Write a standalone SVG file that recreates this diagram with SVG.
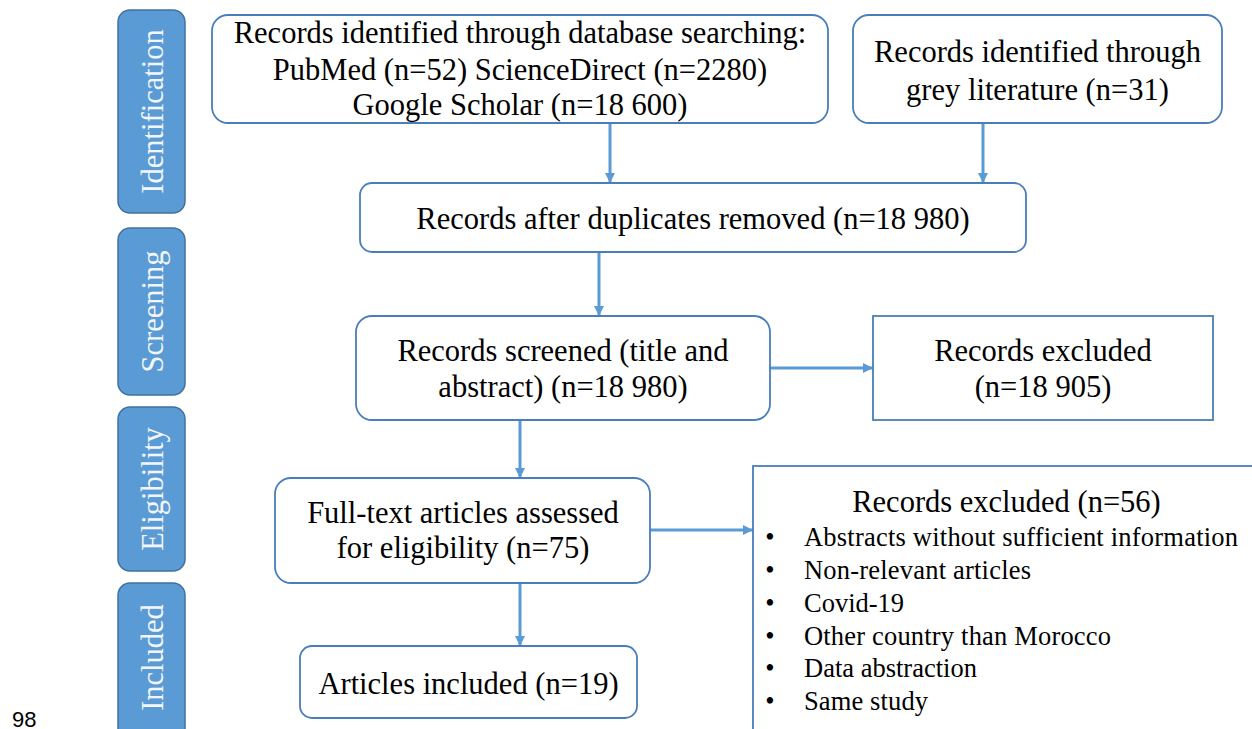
<svg xmlns="http://www.w3.org/2000/svg" width="1252" height="729" viewBox="0 0 1252 729">
<style>
  .bar { fill: #5B9BD5; stroke: #41719C; stroke-width: 1.5; }
  .barlabel { font-family: "Liberation Serif", "Times New Roman", serif; font-size: 30.5px; fill: #F2F6FB; text-anchor: middle; }
  .box { fill: #FFFFFF; stroke: #4A7EBB; stroke-width: 1.8; }
  .txt { font-family: "Liberation Serif", "Times New Roman", serif; font-size: 30.5px; fill: #000000; text-anchor: middle; }
  .btxt { font-family: "Liberation Serif", "Times New Roman", serif; font-size: 26.5px; fill: #000000; }
  .conn { stroke: #5B9BD5; stroke-width: 3; fill: none; marker-end: url(#arrow); }
</style>
<defs>
  <marker id="arrow" markerUnits="userSpaceOnUse" viewBox="0 0 10 10" refX="10" refY="5" markerWidth="10" markerHeight="10" orient="auto">
    <path d="M0,0 L10,5 L0,10 z" fill="#5B9BD5"/>
  </marker>
</defs>
<rect width="1252" height="729" fill="#FFFFFF"/>

<g id="stage-identification">
  <rect class="bar" x="118" y="10" width="67" height="203" rx="12"/>
  <text class="barlabel" transform="translate(163,111.5) rotate(-90)">Identification</text>
</g>
<g id="stage-screening">
  <rect class="bar" x="118" y="228" width="67" height="167" rx="12"/>
  <text class="barlabel" transform="translate(163,311.5) rotate(-90)">Screening</text>
</g>
<g id="stage-eligibility">
  <rect class="bar" x="118" y="407" width="67" height="164" rx="12"/>
  <text class="barlabel" transform="translate(163,489) rotate(-90)">Eligibility</text>
</g>
<g id="stage-included">
  <rect class="bar" x="118" y="583" width="67" height="160" rx="12"/>
  <text class="barlabel" transform="translate(163,657.5) rotate(-90)">Included</text>
</g>

<g id="connectors">
  <line class="conn" x1="610" y1="123" x2="610" y2="183"/>
  <line class="conn" x1="983" y1="123" x2="983" y2="183"/>
  <line class="conn" x1="599" y1="252" x2="599" y2="316"/>
  <line class="conn" x1="770" y1="368" x2="873" y2="368"/>
  <line class="conn" x1="520" y1="420" x2="520" y2="478"/>
  <line class="conn" x1="650" y1="530" x2="753" y2="530"/>
  <line class="conn" x1="520" y1="583" x2="520" y2="646"/>
</g>

<g id="node-database">
  <rect class="box" x="212" y="15" width="616" height="108" rx="16"/>
  <text class="txt" x="520" y="43">Records identified through database searching:</text>
  <text class="txt" x="520" y="80">PubMed (n=52) ScienceDirect (n=2280)</text>
  <text class="txt" x="520" y="115">Google Scholar (n=18 600)</text>
</g>
<g id="node-grey">
  <rect class="box" x="853" y="15" width="369" height="108" rx="16"/>
  <text class="txt" x="1037.5" y="62">Records identified through</text>
  <text class="txt" x="1037.5" y="100">grey literature (n=31)</text>
</g>
<g id="node-duplicates">
  <rect class="box" x="360" y="183" width="666" height="69" rx="12"/>
  <text class="txt" x="693" y="229">Records after duplicates removed (n=18 980)</text>
</g>
<g id="node-screened">
  <rect class="box" x="356" y="316" width="414" height="104" rx="16"/>
  <text class="txt" x="563" y="361">Records screened (title and</text>
  <text class="txt" x="563" y="397">abstract) (n=18 980)</text>
</g>
<g id="node-excluded1">
  <rect class="box" x="873" y="316" width="340" height="104"/>
  <text class="txt" x="1043" y="361">Records excluded</text>
  <text class="txt" x="1043" y="397">(n=18 905)</text>
</g>
<g id="node-fulltext">
  <rect class="box" x="275" y="478" width="375" height="105" rx="16"/>
  <text class="txt" x="463" y="523">Full-text articles assessed</text>
  <text class="txt" x="463" y="558">for eligibility (n=75)</text>
</g>
<g id="node-included">
  <rect class="box" x="300" y="646" width="337" height="72" rx="12"/>
  <text class="txt" x="468.5" y="694">Articles included (n=19)</text>
</g>
<g id="node-excluded2">
  <rect class="box" x="753" y="466" width="510" height="280"/>
  <text class="txt" x="1006.5" y="512">Records excluded (n=56)</text>
  <g class="btxt">
    <text x="770" y="546" text-anchor="middle">•</text>
    <text x="804" y="546" textLength="434" lengthAdjust="spacing">Abstracts without sufficient information</text>
    <text x="770" y="579" text-anchor="middle">•</text>
    <text x="804" y="579" textLength="227" lengthAdjust="spacing">Non-relevant articles</text>
    <text x="770" y="612" text-anchor="middle">•</text>
    <text x="804" y="612">Covid-19</text>
    <text x="770" y="645" text-anchor="middle">•</text>
    <text x="804" y="645" textLength="307" lengthAdjust="spacing">Other country than Morocco</text>
    <text x="770" y="677" text-anchor="middle">•</text>
    <text x="804" y="677">Data abstraction</text>
    <text x="770" y="710" text-anchor="middle">•</text>
    <text x="804" y="710" textLength="124" lengthAdjust="spacing">Same study</text>
  </g>
</g>

<text x="12" y="727" font-family="Liberation Sans, Arial, sans-serif" font-size="22" fill="#000000">98</text>
</svg>
